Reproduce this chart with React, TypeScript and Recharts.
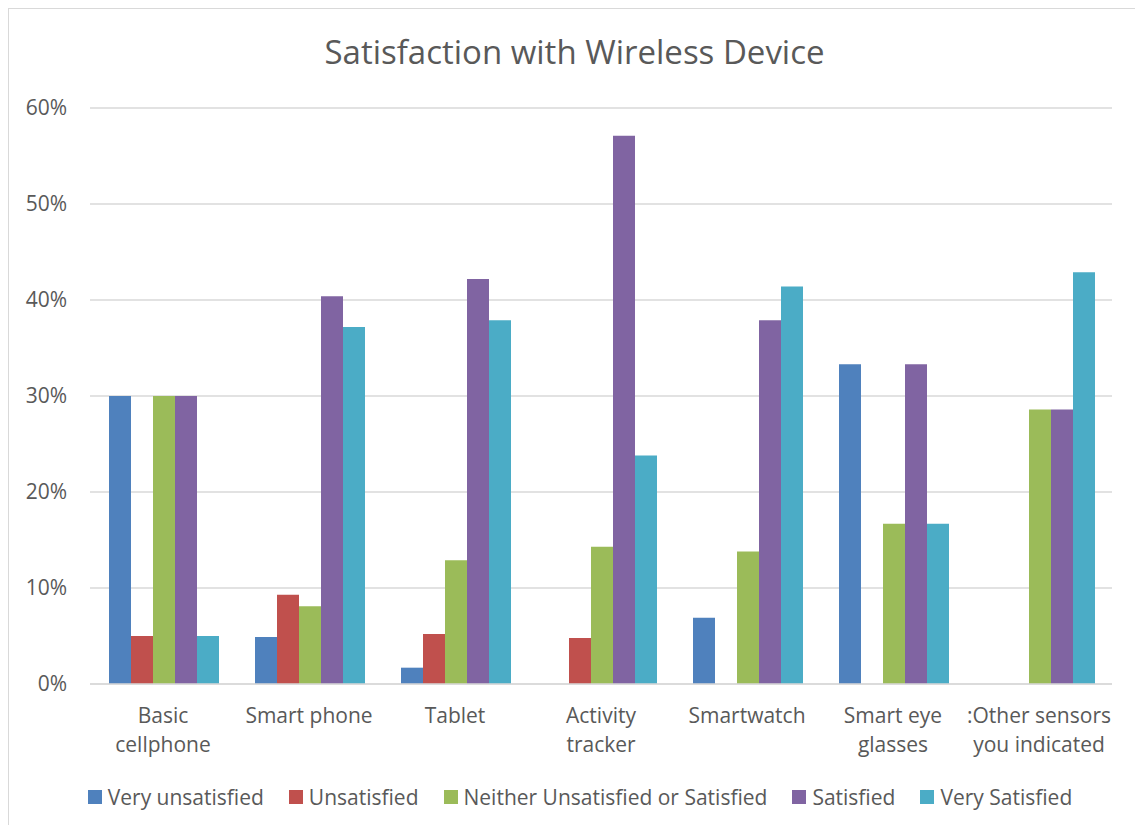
import React from 'react';
import { BarChart, Bar, XAxis, YAxis, CartesianGrid, Legend } from 'recharts';

const devices = [
  'Basic cellphone',
  'Smart phone',
  'Tablet',
  'Activity tracker',
  'Smartwatch',
  'Smart eye glasses',
  ':Other sensors you indicated',
];

// how each device name is broken over lines under the axis
const deviceLabelLines = [
  ['Basic', 'cellphone'],
  ['Smart phone'],
  ['Tablet'],
  ['Activity', 'tracker'],
  ['Smartwatch'],
  ['Smart eye', 'glasses'],
  [':Other sensors', 'you indicated'],
];

const veryUnsatisfied = [30, 4.9, 1.7, 0, 6.9, 33.3, 0];
const unsatisfied = [5, 9.3, 5.2, 4.8, 0, 0, 0];
const neither = [30, 8.1, 12.9, 14.3, 13.8, 16.7, 28.6];
const satisfied = [30, 40.4, 42.2, 57.1, 37.9, 33.3, 28.6];
const verySatisfied = [5, 37.2, 37.9, 23.8, 41.4, 16.7, 42.9];

const yTicks = [0, 10, 20, 30, 40, 50, 60];

const series = [
  { key: 'vu', name: 'Very unsatisfied', color: '#4f81bd', values: veryUnsatisfied },
  { key: 'u', name: 'Unsatisfied', color: '#c0504d', values: unsatisfied },
  { key: 'n', name: 'Neither Unsatisfied or Satisfied', color: '#9bbb59', values: neither },
  { key: 's', name: 'Satisfied', color: '#8064a2', values: satisfied },
  { key: 'vs', name: 'Very Satisfied', color: '#4bacc6', values: verySatisfied },
];

const data = devices.map((device, i) => {
  const row: { [k: string]: string | number } = { device, idx: i };
  series.forEach(s => { row[s.key] = s.values[i]; });
  return row;
});

const FONT = '"Open Sans", sans-serif';
const TEXT = '#595959';

const DeviceTick = (props: any) => {
  const { x, y, index } = props;
  const lines = deviceLabelLines[index] || [];
  return (
    <text x={x} y={y} textAnchor="middle" fill={TEXT} fontSize={21} fontFamily={FONT}>
      {lines.map((line, i) => (
        <tspan key={i} x={x} dy={i === 0 ? 39 : 29}>{line}</tspan>
      ))}
    </text>
  );
};

const LegendRow = () => (
  <div style={{ display: 'flex', justifyContent: 'center', alignItems: 'center', height: 40, fontFamily: FONT, fontSize: 21, color: TEXT, paddingLeft: 39 }}>
    {series.map((s, i) => (
      <div key={s.key} style={{ display: 'flex', alignItems: 'center', marginRight: i === series.length - 1 ? 0 : 25 }}>
        <span style={{ width: 14, height: 14, background: s.color, marginRight: 6, display: 'inline-block' }} />
        <span>{s.name}</span>
      </div>
    ))}
  </div>
);

export default function App() {
  return (
    <div style={{ position: 'relative', width: 1131, height: 816, border: '1px solid #d9d9d9', borderBottom: 'none', background: '#fff' }}>
      <div style={{ position: 'absolute', top: 20, left: 0, width: '100%', textAlign: 'center', fontFamily: FONT, fontSize: 33, color: TEXT }}>
        Satisfaction with Wireless Device
      </div>
      <BarChart
        width={1131}
        height={815}
        data={data}
        margin={{ top: 99, right: 28, left: 0, bottom: 7 }}
        barCategoryGap={19}
        barGap={0}
      >
        <CartesianGrid vertical={false} stroke="#d9d9d9" strokeWidth={1.5} />
        <XAxis
          dataKey="device"
          height={93}
          tickSize={0}
          tickMargin={0}
          tickLine={false}
          axisLine={{ stroke: '#d9d9d9', strokeWidth: 1.5 }}
          tick={<DeviceTick />}
          interval={0}
        />
        <YAxis
          width={81}
          domain={[0, 60]}
          ticks={yTicks}
          tickFormatter={(v: number) => `${v}%`}
          axisLine={false}
          tickLine={false}
          tickSize={0}
          tickMargin={23}
          tick={{ fill: TEXT, fontSize: 21, fontFamily: FONT }}
        />
        <Legend verticalAlign="bottom" content={<LegendRow />} />
        {series.map(s => (
          <Bar key={s.key} dataKey={s.key} name={s.name} fill={s.color} isAnimationActive={false} />
        ))}
      </BarChart>
    </div>
  );
}
